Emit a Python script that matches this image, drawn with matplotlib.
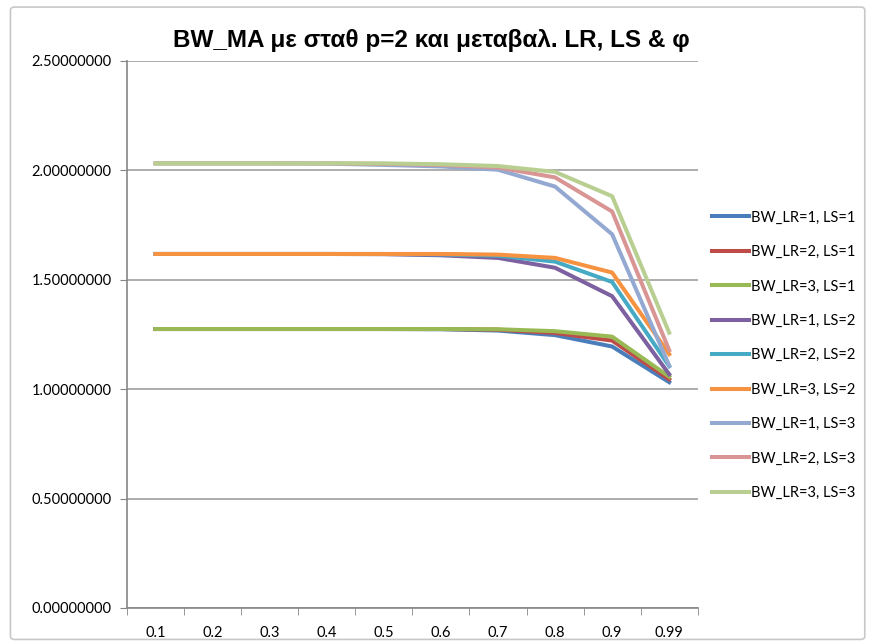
import matplotlib.pyplot as plt
import matplotlib.patches as patches
import numpy as np

# categories (phi)
categories = ['0.1', '0.2', '0.3', '0.4', '0.5', '0.6', '0.7', '0.8', '0.9', '0.99']

labels = ['BW_LR=1, LS=1', 'BW_LR=2, LS=1', 'BW_LR=3, LS=1',
          'BW_LR=1, LS=2', 'BW_LR=2, LS=2', 'BW_LR=3, LS=2',
          'BW_LR=1, LS=3', 'BW_LR=2, LS=3', 'BW_LR=3, LS=3']

lr1_ls1 = [1.275, 1.275, 1.275, 1.275, 1.275, 1.274, 1.268, 1.247, 1.195, 1.032]
lr2_ls1 = [1.275, 1.275, 1.275, 1.275, 1.275, 1.275, 1.272, 1.257, 1.222, 1.045]
lr3_ls1 = [1.275, 1.275, 1.275, 1.275, 1.275, 1.275, 1.274, 1.265, 1.240, 1.057]
lr1_ls2 = [1.618, 1.618, 1.618, 1.618, 1.617, 1.612, 1.600, 1.555, 1.425, 1.068]
lr2_ls2 = [1.618, 1.618, 1.618, 1.618, 1.618, 1.616, 1.610, 1.583, 1.490, 1.105]
lr3_ls2 = [1.618, 1.618, 1.618, 1.618, 1.618, 1.618, 1.615, 1.600, 1.533, 1.160]
lr1_ls3 = [2.032, 2.032, 2.032, 2.031, 2.025, 2.018, 2.003, 1.926, 1.708, 1.108]
lr2_ls3 = [2.032, 2.032, 2.032, 2.032, 2.030, 2.025, 2.013, 1.968, 1.812, 1.178]
lr3_ls3 = [2.032, 2.032, 2.032, 2.032, 2.032, 2.028, 2.020, 1.993, 1.882, 1.258]

series = [lr1_ls1, lr2_ls1, lr3_ls1, lr1_ls2, lr2_ls2, lr3_ls2, lr1_ls3, lr2_ls3, lr3_ls3]
colors = ['#4A7EBB', '#BE4B48', '#98B954', '#7D60A0', '#46AAC5', '#F69240',
          '#93A9D2', '#D99594', '#B9CF92']

fig = plt.figure(figsize=(8.7, 6.42), dpi=100)
ax = fig.add_axes([0.146, 0.053, 0.656, 0.852])

x = np.arange(len(categories))
for vals, lab, col in zip(series, labels, colors):
    ax.plot(x, vals, color=col, linewidth=2.9, label=lab, solid_joinstyle='round')

ax.set_xlim(-0.5, len(categories) - 0.5)
ax.set_ylim(0, 2.5)
ax.set_yticks(np.arange(0, 2.51, 0.5))
ax.set_yticklabels([f'{v:.8f}' for v in np.arange(0, 2.51, 0.5)])
ax.set_xticks(x)
ax.set_xticklabels(categories)
ax.set_xticks(np.arange(-0.5, len(categories)), minor=True)
ax.tick_params(axis='x', which='major', length=0, pad=13)
ax.tick_params(axis='x', which='minor', length=5, color='#868686', direction='out')
ax.tick_params(axis='y', length=5, color='#868686', direction='out', pad=6)
for t in ax.get_xticklabels() + ax.get_yticklabels():
    t.set_fontfamily('Lato')
    t.set_fontsize(10.5)

ax.grid(axis='y', color='#A0A0A0', linewidth=1.2)
ax.set_axisbelow(True)
for s in ['top', 'right']:
    ax.spines[s].set_visible(False)
for s in ['left', 'bottom']:
    ax.spines[s].set_color('#868686')
    ax.spines[s].set_linewidth(1.2)

fig.text(0.496, 0.937, 'BW_MA με σταθ p=2 και μεταβαλ. LR, LS & φ',
         ha='center', va='center', fontsize=17.5, fontweight='bold',
         family='Liberation Sans')

leg = ax.legend(loc='center left', bbox_to_anchor=(1.0, 0.462), frameon=False,
                prop={'family': 'Lato', 'size': 10.5}, handlelength=2.5,
                handletextpad=0.12, labelspacing=1.4, borderaxespad=0.6)

# chart area border
fig.patches.append(patches.FancyBboxPatch((0.012, 0.004), 0.982, 0.985,
                                          boxstyle='round,pad=0,rounding_size=0.005',
                                          transform=fig.transFigure, fill=False,
                                          edgecolor='#C8C8C8', linewidth=1.2))

fig.savefig('out.png', dpi=100)
